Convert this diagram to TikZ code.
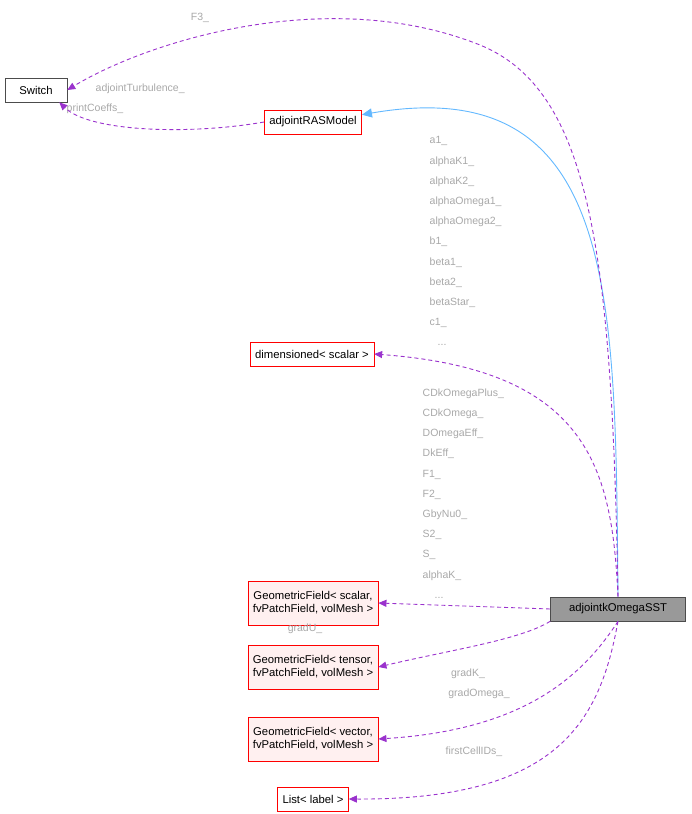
\documentclass[tikz,border=0pt]{standalone}
\usepackage{fontspec}
\setmainfont{Liberation Sans}
\usetikzlibrary{arrows.meta,positioning}
\definecolor{mem}{HTML}{9A32CD}
\definecolor{inh}{HTML}{63B8FF}
\definecolor{lbl}{HTML}{A8A8A8}
\definecolor{pink}{HTML}{FFF0F0}
\begin{document}
\begin{tikzpicture}[x=1pt,y=-1pt,font=\fontsize{11.3}{13}\selectfont,
                    thick]
  \tikzstyle{cls}=[draw=red,fill=white,line width=0.6pt,minimum height=24,inner xsep=5pt,align=center]
  \tikzstyle{gf}=[cls,fill=pink,minimum height=44,inner ysep=2pt]
  \tikzstyle{uses}=[->,>={Triangle[length=8pt,width=7pt]},draw=mem,dash pattern=on 4pt off 3pt,line width=0.9pt]
  \tikzstyle{lab}=[text=lbl,align=left,font=\fontsize{10.5}{20.2}\selectfont]
  \useasboundingbox (0,0) rectangle (692,814);

  \node[cls,draw=black!70,minimum width=62] (switch) at (36,90) {Switch};
  \node[cls] (ras) at (313,122) {adjointRASModel};
  \node[cls] (dim) at (312,354) {dimensioned< scalar >};
  \node[gf] (gsca) at (313,603) {GeometricField< scalar,\\ fvPatchField, volMesh >};
  \node[gf] (gten) at (313,667) {GeometricField< tensor,\\ fvPatchField, volMesh >};
  \node[gf] (gvec) at (313,739) {GeometricField< vector,\\ fvPatchField, volMesh >};
  \node[cls] (list) at (313,799) {List< label >};
  \node[cls,draw=black!70,fill=black!40,minimum width=135] (sst) at (618,609) {adjointkOmegaSST};

  \node[lab] (f3) at (200,18) {F3\_};
  \node[lab,anchor=west] (swlab) at (63,99) {\hspace*{29pt}adjointTurbulence\_\\printCoeffs\_};
  \node[lab,anchor=north west] (dimlab) at (426,133) {a1\_\\alphaK1\_\\alphaK2\_\\alphaOmega1\_\\alphaOmega2\_\\b1\_\\beta1\_\\beta2\_\\betaStar\_\\c1\_\\\hspace*{8pt}...};
  \node[lab,anchor=north west] (gslab) at (419,385) {CDkOmegaPlus\_\\CDkOmega\_\\DOmegaEff\_\\DkEff\_\\F1\_\\F2\_\\GbyNu0\_\\S2\_\\S\_\\alphaK\_\\\hspace*{12pt}...};
  \node[lab] (gtlab) at (305,629) {gradU\_};
  \node[lab,align=center] (gvlab) at (468,684) {gradK\_\\\hspace*{22pt}gradOmega\_};
  \node[lab] (lslab) at (474,752) {firstCellIDs\_};

  \draw[->,>={Triangle[length=10pt,width=9pt,fill=inh]},draw=inh,line width=0.9pt]
    (sst.north) .. controls (615,300) and (620,70) .. ([yshift=-5pt]ras.north east);
  \draw[uses] (sst.north) .. controls (612,250) and (590,90) .. (480,45)
    .. controls (330,-15) and (150,40) .. (switch.east);
  \draw[uses] (ras.west) .. controls (190,135) and (90,132) .. ([xshift=-8pt]switch.south east);
  \draw[uses] (sst.north) .. controls (612,470) and (590,370) .. (dim.east);
  \draw[uses] (sst.west) -- (gsca.east);
  \draw[uses] (sst.south west) .. controls (520,640) and (450,650) .. (gten.east);
  \draw[uses] (sst.south) .. controls (580,680) and (520,730) .. (gvec.east);
  \draw[uses] (sst.south) .. controls (600,720) and (560,800) .. (list.east);
\end{tikzpicture}
\end{document}
